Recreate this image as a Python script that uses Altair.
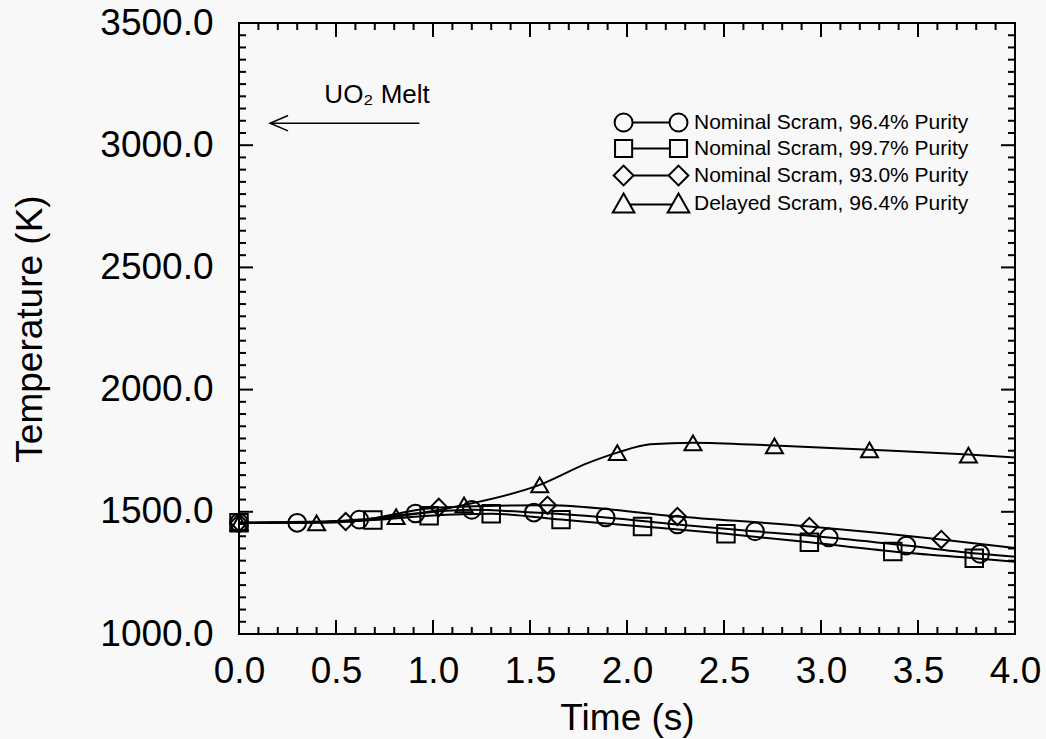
import altair as alt
import pandas as pd

FONT = "Liberation Sans"
W, H = 776, 611

series_names = [
    "Nominal Scram, 96.4% Purity",
    "Nominal Scram, 99.7% Purity",
    "Nominal Scram, 93.0% Purity",
    "Delayed Scram, 96.4% Purity",
]

# ---- marker values (time s, temperature K) ----
circle_t = [0.0, 0.30, 0.62, 0.91, 1.20, 1.52, 1.89, 2.26, 2.66, 3.04, 3.44, 3.82]
circle_T = [1455, 1455, 1468, 1493, 1508, 1497, 1477, 1448, 1420, 1395, 1362, 1328]
square_t = [0.0, 0.69, 0.98, 1.30, 1.66, 2.08, 2.51, 2.94, 3.37, 3.79]
square_T = [1455, 1466, 1484, 1492, 1468, 1440, 1410, 1375, 1338, 1310]
diamond_t = [0.0, 0.55, 1.03, 1.59, 2.26, 2.94, 3.62]
diamond_T = [1455, 1460, 1518, 1527, 1481, 1440, 1387]
tri_t = [0.0, 0.40, 0.81, 1.16, 1.55, 1.95, 2.34, 2.76, 3.25, 3.76]
tri_T = [1455, 1455, 1480, 1528, 1610, 1742, 1782, 1770, 1753, 1732]

# ---- curve values ----
circle_line_t = [0.0, 0.30, 0.62, 0.91, 1.20, 1.52, 1.89, 2.26, 2.66, 3.04, 3.44, 3.82, 4.0]
circle_line_T = [1455, 1455, 1468, 1493, 1508, 1497, 1477, 1448, 1420, 1395, 1362, 1328, 1316]
square_line_t = [0.0, 0.69, 0.98, 1.30, 1.66, 2.08, 2.51, 2.94, 3.37, 3.79, 4.0]
square_line_T = [1455, 1466, 1484, 1492, 1468, 1440, 1410, 1375, 1338, 1310, 1296]
diamond_line_t = [0.0, 0.55, 1.03, 1.59, 2.26, 2.94, 3.62, 4.0]
diamond_line_T = [1455, 1460, 1518, 1527, 1481, 1440, 1387, 1352]
delayed_line_t = [0.0, 0.40, 0.81, 1.16, 1.55, 1.80, 1.95, 2.12, 2.34, 2.76, 3.25, 3.76, 4.0]
delayed_line_T = [1455, 1455, 1480, 1528, 1610, 1700, 1742, 1776, 1783, 1771, 1754, 1734, 1722]

# ---- annotation ----
melt_label = ["UO\u2082 Melt"]
melt_label_t = [0.44]
melt_label_T = [3172]
arrow_t_start = [0.93]
arrow_t_tip = [0.16]
arrow_T = [3090]

# ---- axis ticks ----
x_major = [0.0, 0.5, 1.0, 1.5, 2.0, 2.5, 3.0, 3.5, 4.0]
x_minor = [round(i * 0.1, 1) for i in range(41) if i % 5]
y_major = [1000, 1500, 2000, 2500, 3000, 3500]
y_minor = [1000 + 50 * i for i in range(51) if i % 10]
X_MIN, X_MAX = 0.0, 4.0
Y_MIN, Y_MAX = 1000, 3500
MAJOR_LEN, MINOR_LEN = 14, 7   # tick lengths in pixels

marker_shapes = ["circle", "square", "diamond", "triangle-up"]
marker_sizes = [314, 289, 400, 480]
legend_paths = [
    "M -5.1 0 A 1 1 0 1 1 -7.1 0 A 1 1 0 1 1 -5.1 0 M -5.1 0 L -1 0 "
    "M 1 0 A 1 1 0 1 1 -1 0 A 1 1 0 1 1 1 0",
    "M -7.05 -0.95 L -5.15 -0.95 L -5.15 0.95 L -7.05 0.95 Z M -5.15 0 L -0.95 0 "
    "M -0.95 -0.95 L 0.95 -0.95 L 0.95 0.95 L -0.95 0.95 Z",
    "M -7.2 0 L -6.1 -1.1 L -5.0 0 L -6.1 1.1 Z M -5.0 0 L -1.1 0 "
    "M -1.1 0 L 0 -1.1 L 1.1 0 L 0 1.1 Z",
    "M -7.3 1.0 L -6.1 -1.1 L -4.9 1.0 Z M -5.41 0.1 L -0.69 0.1 "
    "M -1.2 1.0 L 0 -1.1 L 1.2 1.0 Z",
]

# ---- tables ----
def table(ts, Ts, name):
    return pd.DataFrame({"t": ts, "T": Ts, "series": name})

points_df = pd.concat([
    table(circle_t, circle_T, series_names[0]),
    table(square_t, square_T, series_names[1]),
    table(diamond_t, diamond_T, series_names[2]),
    table(tri_t, tri_T, series_names[3]),
], ignore_index=True)

lines_df = pd.concat([
    table(circle_line_t, circle_line_T, series_names[0]),
    table(square_line_t, square_line_T, series_names[1]),
    table(diamond_line_t, diamond_line_T, series_names[2]),
    table(delayed_line_t, delayed_line_T, series_names[3]),
], ignore_index=True)

# legend-only layer: one entry per series, no visible mark (zero opacity)
legend_df = pd.DataFrame({"series": series_names})

label_df = pd.DataFrame({"t": melt_label_t, "T": melt_label_T, "label": melt_label})
arrow_df = pd.DataFrame({"t": arrow_t_start, "t2": arrow_t_tip, "T": arrow_T})
head_df = pd.DataFrame({"t": arrow_t_tip, "T": arrow_T})

# inward tick segments mirrored on all four sides, tick lengths converted to data units
kx = (X_MAX - X_MIN) / W
ky = (Y_MAX - Y_MIN) / H
tick_rows = []
for vals, L in ((x_major, MAJOR_LEN), (x_minor, MINOR_LEN)):
    for v in vals:
        tick_rows.append({"t": v, "t2": v, "T": Y_MIN, "T2": Y_MIN + L * ky})
        tick_rows.append({"t": v, "t2": v, "T": Y_MAX, "T2": Y_MAX - L * ky})
for vals, L in ((y_major, MAJOR_LEN), (y_minor, MINOR_LEN)):
    for v in vals:
        tick_rows.append({"t": X_MIN, "t2": X_MIN + L * kx, "T": v, "T2": v})
        tick_rows.append({"t": X_MAX, "t2": X_MAX - L * kx, "T": v, "T2": v})
ticks_df = pd.DataFrame(tick_rows)

xs = alt.Scale(domain=[X_MIN, X_MAX], nice=False, zero=False)
ys = alt.Scale(domain=[Y_MIN, Y_MAX], nice=False, zero=False)

x_lab = alt.Axis(values=x_major, format=".1f", title="Time (s)",
                 labelFont=FONT, labelFontSize=37, labelColor="black",
                 labelPadding=19, labelFlush=False, labelOverlap=False,
                 ticks=False, domain=False, grid=False,
                 titleFont=FONT, titleFontSize=37, titleFontWeight="normal",
                 titleColor="black", titlePadding=11)
y_lab = alt.Axis(values=y_major, format=".1f", title="Temperature (K)",
                 labelFont=FONT, labelFontSize=37, labelColor="black",
                 labelPadding=26, labelFlush=False, labelOverlap=False,
                 ticks=False, domain=False, grid=False,
                 titleFont=FONT, titleFontSize=37, titleFontWeight="normal",
                 titleColor="black", titlePadding=50)

lines = alt.Chart(lines_df).mark_line(color="black", strokeWidth=2, interpolate="monotone").encode(
    x=alt.X("t:Q", scale=xs, axis=x_lab),
    y=alt.Y("T:Q", scale=ys, axis=y_lab),
    detail="series:N",
)

ticks = alt.Chart(ticks_df).mark_rule(color="black", strokeWidth=2).encode(
    x=alt.X("t:Q", scale=xs),
    x2="t2:Q",
    y=alt.Y("T:Q", scale=ys),
    y2="T2:Q",
)

points = alt.Chart(points_df).mark_point(filled=False, color="black", strokeWidth=2, opacity=1).encode(
    x=alt.X("t:Q", scale=xs),
    y=alt.Y("T:Q", scale=ys),
    shape=alt.Shape("series:N", scale=alt.Scale(domain=series_names, range=marker_shapes), legend=None),
    size=alt.Size("series:N", scale=alt.Scale(domain=series_names, range=marker_sizes), legend=None),
)

legend_layer = alt.Chart(legend_df).mark_point(
    filled=False, color="black", strokeWidth=2, size=324, opacity=0
).encode(
    shape=alt.Shape(
        "series:N",
        scale=alt.Scale(domain=series_names, range=legend_paths),
        legend=alt.Legend(
            title=None, orient="none", legendX=429, legendY=89, padding=0,
            rowPadding=-1, labelFont=FONT, labelFontSize=21, labelColor="black",
            labelLimit=500, labelOffset=5, symbolSize=324, symbolStrokeWidth=2,
            symbolStrokeColor="black", symbolFillColor="transparent",
            symbolOpacity=1,
        ),
    ),
)

melt_text = alt.Chart(label_df).mark_text(
    align="left", baseline="alphabetic", font=FONT, fontSize=26, color="black"
).encode(
    x=alt.X("t:Q", scale=xs),
    y=alt.Y("T:Q", scale=ys),
    text="label:N",
)

arrow_line = alt.Chart(arrow_df).mark_rule(color="black", strokeWidth=1.5).encode(
    x=alt.X("t:Q", scale=xs),
    x2="t2:Q",
    y=alt.Y("T:Q", scale=ys),
)

arrow_head = alt.Chart(head_df).mark_point(
    shape="M 2 -0.85 L 0 0 L 2 0.85", size=324, filled=False, color="black",
    strokeWidth=1.5, opacity=1
).encode(
    x=alt.X("t:Q", scale=xs),
    y=alt.Y("T:Q", scale=ys),
)

chart = alt.layer(
    lines, ticks, points, melt_text, arrow_line, arrow_head, legend_layer
).resolve_scale(
    shape="independent", size="independent"
).properties(
    width=W, height=H,
    autosize=alt.AutoSizeParams(type="none"),
    padding={"left": 239, "top": 23, "right": 31, "bottom": 105},
    background="#f8f8f8",
).configure_view(stroke="black", strokeWidth=2)

chart.save("out.html", embed_options={"renderer": "svg", "actions": False})
